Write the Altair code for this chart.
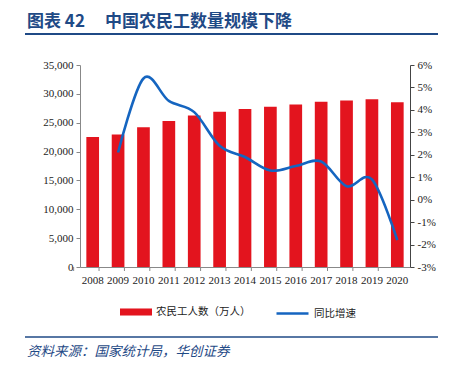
import altair as alt
import pandas as pd

years = ["2008", "2009", "2010", "2011", "2012", "2013", "2014", "2015", "2016", "2017", "2018", "2019", "2020"]
workers = [22542, 22978, 24223, 25278, 26261, 26894, 27395, 27747, 28171, 28652, 28836, 29077, 28560]
growth = [None, 2.1, 5.4, 4.4, 3.9, 2.4, 1.9, 1.3, 1.5, 1.7, 0.6, 0.9, -1.8]

bar_name = "农民工人数（万人）"
line_name = "同比增速"
title_a = "图表 42"
title_b = "中国农民工数量规模下降"
source = "资料来源：国家统计局，华创证券"

RED = "#E3141E"
BLUE = "#1565C0"
NAVY = "#1F4A86"
SERIF = "Liberation Serif"
CJK = "Noto Sans CJK SC"

df = pd.DataFrame({"year": years, "workers": workers, "growth": growth})
df["s1"] = bar_name
df["s2"] = line_name

xscale = alt.Scale(domain=years, paddingInner=0.5, paddingOuter=0.25)
xenc = alt.X("year:N", scale=xscale,
             axis=alt.Axis(title=None, labelAngle=0, labelFont=SERIF, labelFontSize=11,
                           labelColor="#222", labelPadding=7, tickSize=0, domainColor="#888",
                           labelOverlap=False))

base = alt.Chart(df)

bars = base.mark_bar(color=RED).encode(
    x=xenc,
    y=alt.Y("workers:Q", scale=alt.Scale(domain=[0, 35000], nice=False),
            axis=alt.Axis(title=None, values=list(range(0, 35001, 5000)),
                          labelExpr="format(datum.value, ',')",
                          labelFont=SERIF, labelFontSize=11, labelColor="#222",
                          domainColor="#888", tickColor="#888", tickSize=4, labelPadding=3,
                          grid=False)),
    fill=alt.Fill("s1:N", scale=alt.Scale(domain=[bar_name], range=[RED]),
                  legend=alt.Legend(title=None, orient="none", legendX=40, legendY=231,
                                    symbolType="M-1,-0.22H1V0.22H-1Z", symbolSize=1024,
                                    symbolStrokeWidth=0, labelFont=CJK, labelFontSize=10.5,
                                    labelColor="#222", labelOffset=4)),
)

xticks = base.mark_rule(color="#888", strokeWidth=1).encode(
    x=alt.X("year:N", scale=xscale),
    xOffset=alt.value(-12.69),
    y=alt.value(202),
    y2=alt.value(206),
)

line = base.transform_filter("datum.growth != null").mark_line(
    interpolate="cardinal", strokeWidth=2.6
).encode(
    x=alt.X("year:N", scale=xscale),
    y=alt.Y("growth:Q", scale=alt.Scale(domain=[-3, 6], nice=False),
            axis=alt.Axis(title=None, orient="right", values=list(range(-3, 7)),
                          labelExpr="datum.value + '%'",
                          labelFont=SERIF, labelFontSize=11, labelColor="#222",
                          domainColor="#444", tickColor="#444", tickSize=4, labelPadding=3,
                          grid=False)),
    stroke=alt.Stroke("s2:N", scale=alt.Scale(domain=[line_name], range=[BLUE]),
                      legend=alt.Legend(title=None, orient="none", legendX=195, legendY=231,
                                        symbolType="stroke", symbolSize=1024,
                                        symbolStrokeWidth=2.6, labelFont=CJK, labelFontSize=10.5,
                                        labelColor="#222", labelOffset=4)),
)

one = pd.DataFrame({"a": [title_a], "b": [title_b], "s": [source]})
t1 = alt.Chart(one).mark_text(align="left", baseline="middle", font=CJK, fontSize=17,
                              fontWeight="bold", color=NAVY).encode(
    text="a:N", x=alt.value(-53), y=alt.value(-43))
t2 = alt.Chart(one).mark_text(align="left", baseline="middle", font=CJK, fontSize=17,
                              fontWeight="bold", color=NAVY).encode(
    text="b:N", x=alt.value(25), y=alt.value(-43))
src = alt.Chart(one).mark_text(align="left", baseline="middle", font=CJK, fontSize=13.5,
                               fontStyle="italic", color=NAVY).encode(
    text="s:N", x=alt.value(-53), y=alt.value(287))
r1 = alt.Chart(one).mark_rule(color=NAVY, strokeWidth=2).encode(
    x=alt.value(-55), x2=alt.value(358), y=alt.value(-31))
r2 = alt.Chart(one).mark_rule(color=NAVY, strokeWidth=1.5).encode(
    x=alt.value(-55), x2=alt.value(358), y=alt.value(272))

chart = alt.layer(bars, xticks, line, t1, t2, src, r1, r2).resolve_scale(
    y="independent", fill="independent", stroke="independent"
).properties(
    width=330, height=202,
    padding={"left": 72, "top": 57, "right": 34, "bottom": 100},
    autosize=alt.AutoSizeParams(type="none"),
).configure_view(strokeWidth=0)

chart.save("out.html", embed_options={"renderer": "svg", "actions": False})
